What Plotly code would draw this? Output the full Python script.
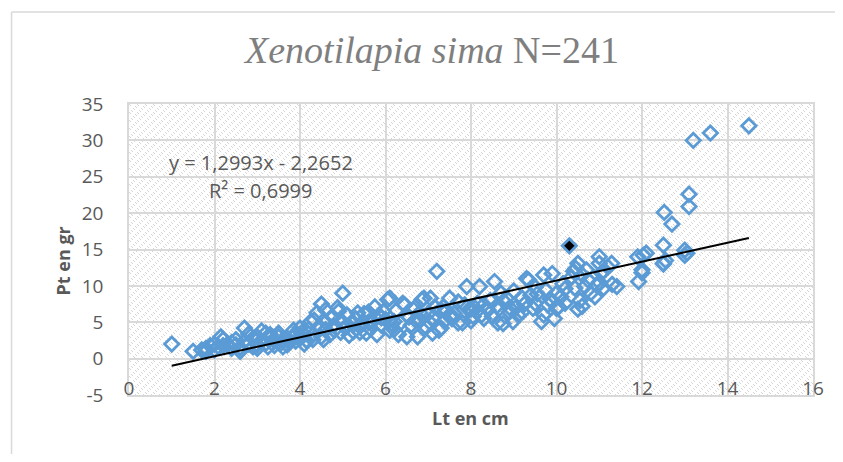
import base64, struct, zlib
import plotly.graph_objects as go

# ---------------- data ----------------
lt_cm = [
    1.0, 1.5, 1.7, 1.8, 1.8, 1.9, 2.0, 2.0, 2.1, 2.15, 2.2, 2.2, 2.3, 2.4, 2.4, 2.5, 2.5, 2.6, 2.6, 2.7,
    2.7, 2.8, 2.8, 2.9, 2.9, 3.0, 3.0, 3.0, 3.1, 3.1, 3.2, 3.2, 3.25, 3.3, 3.3, 3.4, 3.4, 3.5, 3.5, 3.55,
    3.6, 3.6, 3.7, 3.7, 3.75, 3.8, 3.85, 3.9, 3.9, 4.0, 4.0, 4.05, 4.1, 4.1, 4.15, 4.2, 4.25, 4.3, 4.3, 4.33,
    4.4, 4.45, 4.5, 4.5, 4.55, 4.6, 4.6, 4.6, 4.7, 4.75, 4.8, 4.8, 4.88, 4.9, 4.95, 5.0, 5.0, 5.05, 5.1, 5.1,
    5.15, 5.2, 5.25, 5.3, 5.35, 5.4, 5.4, 5.45, 5.5, 5.55, 5.6, 5.6, 5.65, 5.7, 5.75, 5.8, 5.85, 5.9, 5.9, 5.95,
    6.0, 6.05, 6.1, 6.1, 6.15, 6.2, 6.2, 6.25, 6.3, 6.35, 6.4, 6.45, 6.5, 6.5, 6.55, 6.6, 6.65, 6.7, 6.75, 6.8,
    6.8, 6.85, 6.9, 6.95, 7.0, 7.05, 7.05, 7.1, 7.1, 7.15, 7.2, 7.25, 7.3, 7.3, 7.35, 7.4, 7.4, 7.5, 7.55, 7.55,
    7.6, 7.7, 7.7, 7.8, 7.85, 7.9, 7.95, 8.0, 8.0, 8.05, 8.1, 8.15, 8.2, 8.25, 8.3, 8.3, 8.4, 8.45, 8.5, 8.55,
    8.6, 8.63, 8.67, 8.7, 8.75, 8.8, 8.83, 8.9, 8.9, 8.98, 9.0, 9.05, 9.1, 9.2, 9.2, 9.25, 9.3, 9.35, 9.4, 9.45,
    9.5, 9.5, 9.55, 9.65, 9.7, 9.7, 9.75, 9.8, 9.85, 9.9, 9.9, 9.95, 10.0, 10.0, 10.05, 10.1, 10.15, 10.2, 10.2, 10.35,
    10.4, 10.43, 10.45, 10.5, 10.5, 10.55, 10.6, 10.6, 10.66, 10.7, 10.74, 10.8, 10.9, 10.95, 11.0, 11.0, 11.0, 11.05, 11.1, 11.1,
    11.2, 11.29, 11.3, 11.41, 11.9, 11.92, 12.0, 12.0, 12.03, 12.1, 12.5, 12.5, 12.5, 12.55, 12.52, 12.7, 13.0, 13.0, 13.05, 13.1,
    13.1, 13.2, 13.6, 14.5,
]
pt_gr = [
    2.0, 1.0, 1.2, 1.0, 1.4, 1.8, 1.2, 2.0, 1.6, 3.0, 2.6, 1.8, 1.9, 2.2, 1.4, 1.9, 2.6, 1.0, 1.5, 4.2,
    2.4, 3.4, 2.0, 2.8, 1.6, 1.9, 1.4, 3.0, 3.8, 2.4, 2.1, 3.5, 1.6, 2.8, 3.3, 2.4, 1.8, 3.0, 3.5, 2.1,
    1.6, 2.6, 1.9, 2.8, 2.2, 2.9, 3.9, 2.4, 3.3, 4.2, 2.8, 3.6, 3.3, 2.0, 2.5, 4.0, 5.1, 3.2, 2.6, 5.3,
    6.3, 4.4, 7.5, 3.0, 2.6, 6.7, 4.0, 5.0, 3.3, 5.8, 4.6, 3.9, 7.0, 6.5, 3.6, 9.0, 5.0, 4.3, 6.0, 4.4,
    3.2, 4.9, 3.7, 5.5, 6.3, 4.4, 3.6, 4.9, 6.2, 3.5, 5.0, 6.4, 4.1, 5.1, 7.1, 3.3, 6.0, 4.6, 5.6, 6.5,
    5.4, 8.1, 8.3, 3.9, 4.8, 5.1, 4.0, 6.6, 3.3, 4.9, 7.6, 7.4, 3.0, 6.0, 5.7, 4.6, 6.8, 5.3, 3.0, 6.3,
    5.2, 8.1, 8.3, 4.3, 6.2, 4.9, 8.3, 5.6, 3.5, 7.1, 12.0, 3.9, 6.7, 4.2, 7.1, 5.3, 6.4, 8.3, 5.5, 5.9,
    6.2, 4.9, 7.8, 4.9, 7.4, 9.9, 6.7, 6.8, 5.2, 5.8, 6.9, 7.6, 9.9, 6.0, 5.5, 7.4, 6.7, 8.0, 5.8, 10.6,
    7.2, 4.9, 6.9, 9.0, 4.8, 7.7, 8.3, 6.4, 7.0, 5.1, 9.3, 7.0, 6.0, 8.3, 6.4, 7.5, 11.0, 10.8, 8.7, 6.9,
    7.6, 9.8, 8.9, 5.1, 11.5, 6.0, 9.4, 7.4, 8.2, 11.7, 7.8, 5.5, 6.9, 9.0, 7.1, 8.5, 10.3, 9.6, 7.6, 11.2,
    12.0, 9.7, 12.4, 13.1, 6.8, 8.0, 11.5, 7.2, 9.9, 12.2, 10.8, 9.0, 8.5, 10.0, 14.0, 13.1, 10.5, 11.8, 9.7, 12.0,
    12.6, 13.1, 10.2, 9.9, 14.0, 10.6, 12.2, 11.8, 14.2, 14.5, 15.6, 13.1, 13.0, 13.5, 20.1, 18.5, 14.9, 14.2, 14.5, 22.6,
    20.9, 30.0, 31.0, 32.0,
]
highlight_lt = [10.3]
highlight_pt = [15.5]

trend_slope = 1.2993
trend_intercept = -2.2652
equation_text = "y = 1,2993x - 2,2652"
r2_text = "R² = 0,6999"

x_ticks = [0, 2, 4, 6, 8, 10, 12, 14, 16]
y_ticks = [-5, 0, 5, 10, 15, 20, 25, 30, 35]

# ---------------- hatch background image ----------------
def hatch_png(w, h):
    raw = bytearray()
    for yy in range(h):
        raw.append(0)
        for xx in range(w):
            if (xx - yy) % 4 == 0 and (xx + yy) % 8 < 4:
                raw += bytes((214, 214, 214))
            else:
                raw += bytes((255, 255, 255))
    def chunk(tag, data):
        c = struct.pack(">I", len(data)) + tag + data
        return c + struct.pack(">I", zlib.crc32(tag + data) & 0xFFFFFFFF)
    png = b"\x89PNG\r\n\x1a\n"
    png += chunk(b"IHDR", struct.pack(">IIBBBBB", w, h, 8, 2, 0, 0, 0))
    png += chunk(b"IDAT", zlib.compress(bytes(raw), 9))
    png += chunk(b"IEND", b"")
    return "data:image/png;base64," + base64.b64encode(png).decode()

OFF = 8  # page body margin
W, H = 843 - OFF, 462 - 2 * OFF
L, R, T, B = 128.5 - OFF, 812.7 - OFF, 104 - OFF, 395 - OFF
pw, ph = R - L, B - T

def px_x(p):
    return (p - OFF - L) / pw

def px_y(p):
    return (B - (p - OFF)) / ph

BLUE = "#5b9bd5"
GREY = "#595959"
GRID = "#d9d9d9"
FONT = "Open Sans"

fig = go.Figure()
fig.add_trace(go.Scatter(
    x=lt_cm, y=pt_gr, mode="markers",
    marker=dict(symbol="diamond-open", size=11, color=BLUE, line=dict(width=2.8, color=BLUE)),
    hoverinfo="x+y", showlegend=False,
))
fig.add_trace(go.Scatter(
    x=highlight_lt, y=highlight_pt, mode="markers",
    marker=dict(symbol="diamond", size=11, color="black", line=dict(width=2.8, color=BLUE)),
    showlegend=False,
))
all_x = lt_cm + highlight_lt
tx = [min(all_x), max(all_x)]
ty = [trend_slope * v + trend_intercept for v in tx]
fig.add_trace(go.Scatter(x=tx, y=ty, mode="lines", line=dict(color="black", width=2), showlegend=False))

fig.update_layout(
    width=W, height=H,
    margin=dict(l=L, r=W - R, t=T, b=H - B, pad=0),
    paper_bgcolor="white",
    plot_bgcolor="rgba(0,0,0,0)",
    font=dict(family=FONT, color=GREY),
    title=dict(
        text="<i>Xenotilapia sima</i> N=241",
        font=dict(family="Liberation Serif", size=38, color="#7f7f7f"),
        x=(432 - OFF) / W, xref="container", xanchor="center",
        y=1 - (50 - OFF) / H, yref="container", yanchor="middle",
    ),
    images=[dict(
        source=hatch_png(int(round(pw)), int(round(ph))),
        xref="paper", yref="paper", x=0, y=1, sizex=1, sizey=1,
        xanchor="left", yanchor="top", sizing="stretch", layer="below",
    )],
    xaxis=dict(
        range=[0, 16], tickvals=x_ticks, ticktext=[str(v) for v in x_ticks],
        showgrid=True, gridcolor=GRID, gridwidth=1.5, zeroline=False,
        showline=True, linecolor=GRID, linewidth=1.5, mirror=True,
        ticks="", tickfont=dict(size=19, color=GREY, family=FONT),
        ticklabelstandoff=-25,
    ),
    yaxis=dict(
        range=[-5, 35], tickvals=y_ticks, ticktext=[str(v) for v in y_ticks],
        showgrid=True, gridcolor=GRID, gridwidth=1.5, zeroline=False,
        showline=True, linecolor=GRID, linewidth=1.5, mirror=True,
        ticks="", tickfont=dict(size=19, color=GREY, family=FONT),
        ticklabelstandoff=20,
    ),
    shapes=[
        dict(type="line", xref="paper", yref="paper",
             x0=px_x(11), x1=px_x(843), y0=px_y(12), y1=px_y(12),
             line=dict(color=GRID, width=1.5), layer="below"),
        dict(type="line", xref="paper", yref="paper",
             x0=px_x(11), x1=px_x(11), y0=px_y(12), y1=px_y(462),
             line=dict(color=GRID, width=1.5), layer="below"),
    ],
    annotations=[
        dict(text="<b>Pt en gr</b>", xref="paper", yref="paper", x=px_x(62), y=px_y(261),
             textangle=-90, showarrow=False, font=dict(size=18, color=GREY, family=FONT),
             xanchor="center", yanchor="middle"),
        dict(text="<b>Lt en cm</b>", xref="paper", yref="paper", x=px_x(470), y=px_y(418),
             showarrow=False, font=dict(size=18, color=GREY, family=FONT),
             xanchor="center", yanchor="middle"),
        dict(text=equation_text, xref="paper", yref="paper", x=px_x(260.5), y=px_y(162),
             showarrow=False, font=dict(size=20, color=GREY, family=FONT),
             xanchor="center", yanchor="middle"),
        dict(text=r2_text, xref="paper", yref="paper", x=px_x(260.5), y=px_y(190),
             showarrow=False, font=dict(size=20, color=GREY, family=FONT),
             xanchor="center", yanchor="middle"),
    ],
)

fig.write_html("out.html")
